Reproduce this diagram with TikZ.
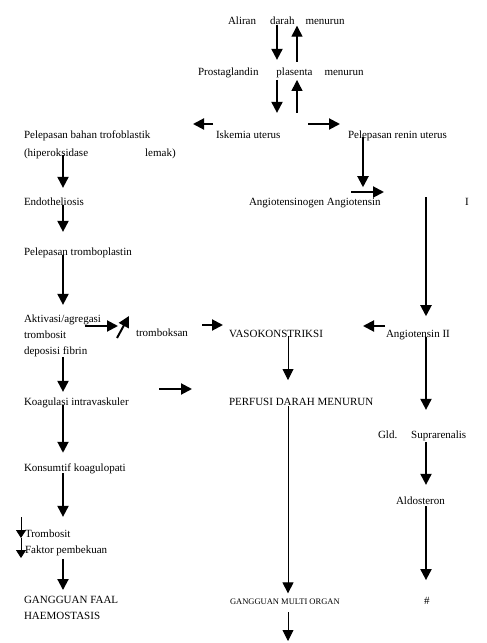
\documentclass[tikz,border=0pt]{standalone}
\usepackage{fontspec}
\setmainfont{Liberation Serif}
\usetikzlibrary{arrows.meta,calc}

\begin{document}
\begin{tikzpicture}[x=1pt,y=-1pt,outer sep=0pt]
\tikzstyle{txt}=[inner sep=0pt, anchor=base west, font=\fontsize{11}{13}\selectfont]
\tikzstyle{fat}=[line width=2pt, -{Triangle[length=11pt,width=11pt]}]
\tikzstyle{lean}=[line width=0.9pt, -{Triangle[length=11pt,width=11pt]}]
\tikzstyle{tiny}=[line width=0.8pt, -{Triangle[length=8pt,width=10pt]}]
\useasboundingbox[fill=white] (0,0) rectangle (487,643);
% columns
\coordinate (c1) at (277,0); \coordinate (c2) at (297,0);
\coordinate (lc) at (63,0); \coordinate (mc) at (288,0);
\coordinate (rn) at (363,0); \coordinate (rc) at (426,0);
% texts
\node (aliran) [txt] at (228,24) {Aliran\hspace{14pt}darah\hspace{11pt}menurun};
\node (prost) [txt] at (198,75) {Prostaglandin\hspace{18pt}plasenta\hspace{12pt}menurun};
\node (pel) [txt] at (24,138) {Pelepasan bahan trofoblastik};
\node (hiper) [txt] at (24,156) {(hiperoksidase\hspace{57pt}lemak)};
\node (isk) [txt] at (216,138) {Iskemia uterus};
\node (renin) [txt] at (348,138) {Pelepasan renin uterus};
\node (endo) [txt] at (24,205) {Endotheliosis};
\node (angio) [txt] at (249,205) {Angiotensinogen Angiotensin};
\node (angI) [txt] at (465,205) {I};
\node (trombo) [txt] at (24,255) {Pelepasan tromboplastin};
\node (akt1) [txt] at (24,322) {Aktivasi/agregasi};
\node (akt2) [txt] at (24,338) {trombosit};
\node (akt3) [txt] at (24,354) {deposisi fibrin};
\node (tbx) [txt] at (136,336) {tromboksan};
\node (vaso) [txt] at (229,337) {VASOKONSTRIKSI};
\node (ang2) [txt] at (386,337) {Angiotensin II};
\node (koag) [txt] at (24,405) {Koagulasi intravaskuler};
\node (perf) [txt] at (229,405) {PERFUSI DARAH MENURUN};
\node (gld) [txt] at (378,438) {Gld.\hspace{14pt}Suprarenalis};
\node (konsum) [txt] at (24,471) {Konsumtif koagulopati};
\node (aldo) [txt] at (396,504) {Aldosteron};
\node (tromb2) [txt] at (25,537) {Trombosit};
\node (faktor) [txt] at (25,553) {Faktor pembekuan};
\node (gfaal) [txt] at (24,603) {GANGGUAN FAAL};
\node (haem) [txt] at (24,619) {HAEMOSTASIS};
\node (gmo) [txt,font=\fontsize{8.5}{10}\selectfont] at (230,604) {GANGGUAN MULTI ORGAN};
\node (hash) [txt] at (424,604) {\#};
% free arrow ends
\coordinate (ik-w) at (213,124); \coordinate (ik-pel) at (193,124);
\coordinate (ik-e) at (308,124); \coordinate (ik-ren) at (340,124);
\coordinate (ag-a) at (351,192); \coordinate (ag-b) at (384,192);
\coordinate (ak-a) at (85,326); \coordinate (ak-b) at (118,326);
\coordinate (dg-a) at (117,338); \coordinate (dg-b) at (129,316);
\coordinate (tx-a) at (202,325); \coordinate (tx-b) at (223,325);
\coordinate (a2-a) at (385,326); \coordinate (a2-b) at (363,326);
\coordinate (kg-a) at (159,389); \coordinate (kg-b) at (192,389);
\coordinate (tb-a) at (21,517); \coordinate (tb-b) at (21,538); \coordinate (tb-c) at (21,558);
\coordinate (bot) at (288,641);
% top
\draw[fat, shorten <=0.6pt, shorten >=7.5pt] (aliran.south -| c1) -- (prost.north -| c1);
\draw[lean, line width=1.4pt, shorten <=5.5pt, shorten >=1.6pt] (prost.north -| c2) -- (aliran.south -| c2);
\draw[fat, shorten <=2.6pt, shorten >=17.5pt] (prost.south -| c1) -- (isk.north -| c1);
\draw[lean, line width=1.4pt, shorten <=17.5pt, shorten >=2.6pt] (isk.north -| c2) -- (prost.south -| c2);
\draw[fat] (ik-w) -- (ik-pel);
\draw[fat] (ik-e) -- (ik-ren);
\draw[fat, shorten <=-3.4pt, shorten >=10.5pt] (renin.south -| rn) -- (angio.north -| rn);
\draw[fat] (ag-a) -- (ag-b);
\draw[fat, shorten <=-0.5pt, shorten >=13.5pt] (angio.north -| rc) -- (ang2.north -| rc);
% left column
\draw[fat, shorten <=-3.4pt, shorten >=9.5pt] (hiper.south -| lc) -- (endo.north -| lc);
\draw[fat, shorten >=15.5pt] (endo.south -| lc) -- (trombo.north -| lc);
\draw[fat, shorten <=-2.4pt, shorten >=9.5pt] (trombo.south -| lc) -- (akt1.north -| lc);
\draw[fat] (ak-a) -- (ak-b);
\draw[fat] (dg-a) -- (dg-b);
\draw[fat] (tx-a) -- (tx-b);
\draw[fat] (a2-a) -- (a2-b);
\draw[fat, shorten <=0.6pt, shorten >=5.5pt] (akt3.south -| lc) -- (koag.north -| lc);
\draw[fat] (kg-a) -- (kg-b);
\draw[fat, shorten <=-2.4pt, shorten >=10.5pt] (koag.south -| lc) -- (konsum.north -| lc);
\draw[fat, shorten >=12.5pt] (konsum.south -| lc) -- (tromb2.north -| lc);
\draw[tiny] (tb-a) -- (tb-b);
\draw[tiny] (tb-b) -- (tb-c);
\draw[fat, shorten <=3.6pt, shorten >=5.7pt] (faktor.south -| lc) -- (gfaal.north -| lc);
% middle and right
\draw[lean, shorten <=-1pt, shorten >=17.7pt] (vaso.south -| mc) -- (perf.north -| mc);
\draw[lean, shorten <=1pt, shorten >=5pt] (perf.south -| mc) -- (gmo.north -| mc);
\draw[lean, shorten <=8pt] (gmo.south -| mc) -- (bot);
\draw[fat, shorten <=-2.4pt, shorten >=20.5pt] (ang2.south -| rc) -- (gld.north -| rc);
\draw[fat, shorten <=1.6pt, shorten >=11.5pt] (gld.south -| rc) -- (aldo.north -| rc);
\draw[fat, shorten <=2pt, shorten >=16.7pt] (aldo.south -| rc) -- (hash.north -| rc);
\end{tikzpicture}
\end{document}
